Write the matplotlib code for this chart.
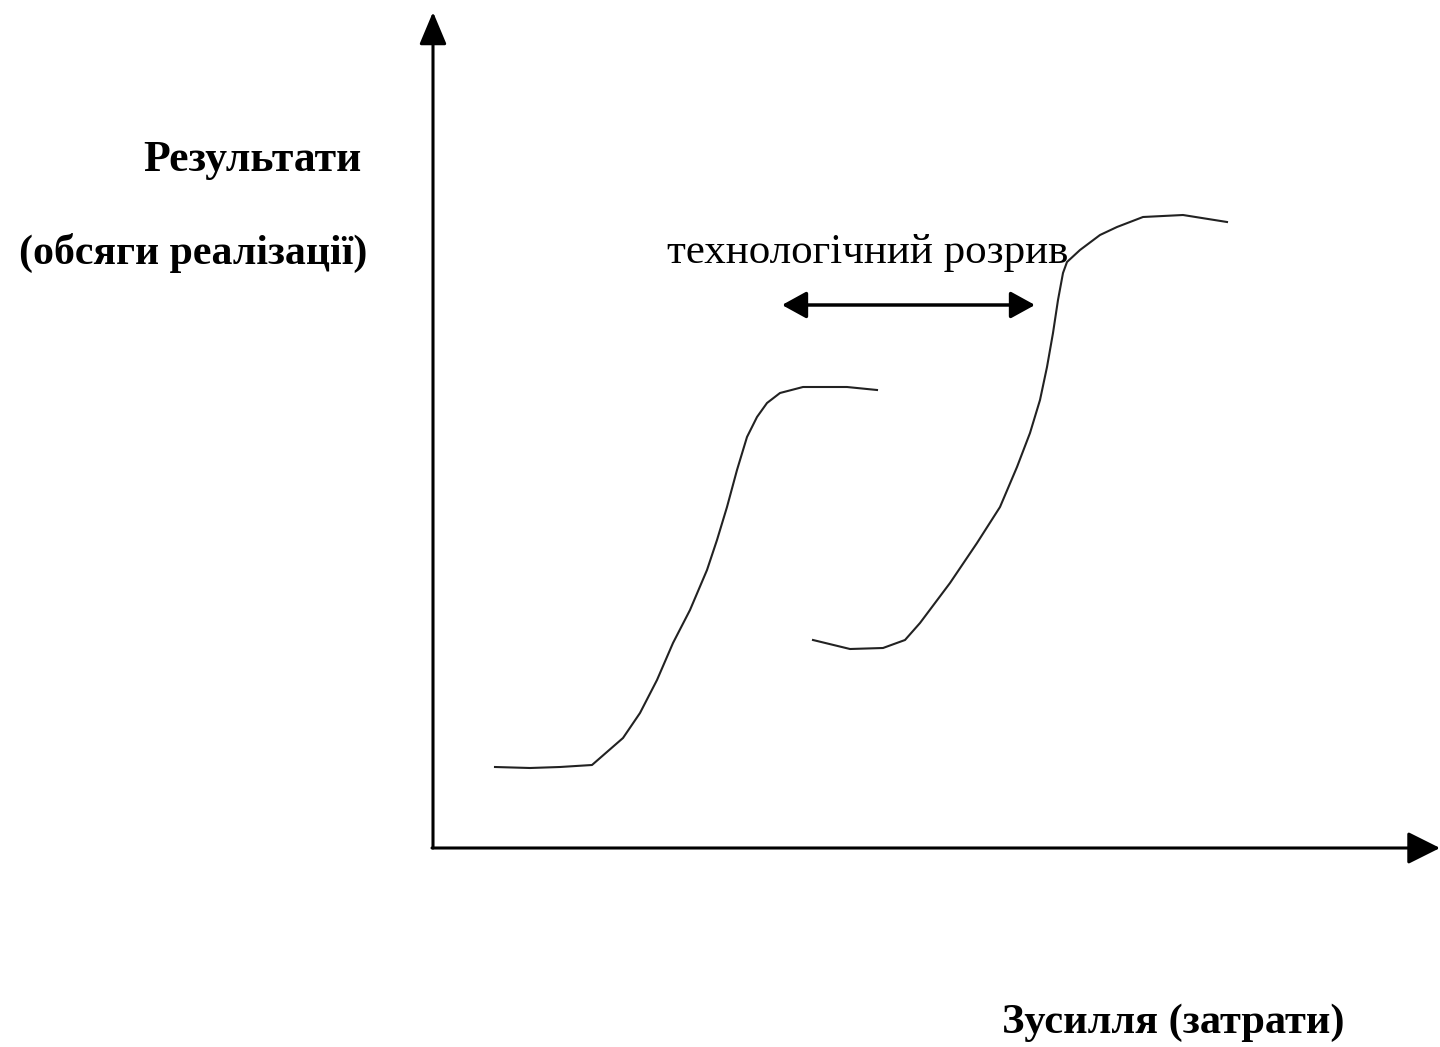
import matplotlib
matplotlib.use("Agg")
import numpy as np
import matplotlib.pyplot as plt

# schematic S-curves: two technologies and the gap between them
# coordinates measured relative to the axes origin (x right, y up)
curve1_x = [62, 97, 127, 159, 190, 207, 224, 240, 257, 274, 284, 294, 304,
            314, 324, 334, 347, 370, 414, 444]
curve1_y = [81, 80, 81, 83, 110, 135, 168, 205, 238, 278, 308, 341, 378,
            411, 431, 445, 455, 461, 461, 458]

curve2_x = [380, 417, 450, 472, 487, 517, 544, 567, 584, 597, 607, 614, 620,
            625, 630, 634, 647, 667, 684, 710, 750, 794]
curve2_y = [208, 199, 200, 208, 225, 265, 305, 341, 381, 415, 448, 481, 515,
            548, 575, 586, 598, 613, 621, 631, 633, 626]

gap_x = [349, 602]
gap_y = 543

y_label = ["Результати", "(обсяги реалізації)"]
x_label = "Зусилля (затрати)"
gap_label = "технологічний розрив"

fig = plt.figure(figsize=(14.4, 10.47), dpi=100)
ax = fig.add_axes([0, 0, 1, 1])
ax.set_xlim(-433, 1007)
ax.set_ylim(-199, 848)
ax.axis("off")

# axes with arrow heads
ax.annotate("", xy=(0, 836), xytext=(0, 0),
            arrowprops=dict(arrowstyle="-|>,head_length=1.0,head_width=0.42",
                            lw=2.2, color="black", mutation_scale=20,
                            shrinkA=0, shrinkB=0))
ax.annotate("", xy=(1007, 0), xytext=(-1, 0),
            arrowprops=dict(arrowstyle="-|>,head_length=1.0,head_width=0.5",
                            lw=2.2, color="black", mutation_scale=20,
                            shrinkA=0, shrinkB=0))

ax.plot(curve1_x, curve1_y, color="#222222", lw=1.5, solid_joinstyle="round")
ax.plot(curve2_x, curve2_y, color="#222222", lw=1.5, solid_joinstyle="round")

ax.annotate("", xy=(gap_x[0], gap_y), xytext=(gap_x[1], gap_y),
            arrowprops=dict(arrowstyle="<|-|>,head_length=1.0,head_width=0.55",
                            lw=2.5, color="black", mutation_scale=15,
                            shrinkA=0, shrinkB=0))

font = ["Liberation Serif", "DejaVu Serif"]
ax.text(362 - 433, 848 - 171, y_label[0], family=font, weight="bold",
        fontsize=31.5, ha="right", va="baseline")
ax.text(367 - 433, 848 - 264, y_label[1], family=font, weight="bold",
        fontsize=30.2, ha="right", va="baseline")
ax.text(667 - 433, 848 - 263, gap_label, family=font,
        fontsize=31, ha="left", va="baseline")
ax.text(1002 - 433, 848 - 1033, x_label, family=font, weight="bold",
        fontsize=30.5, ha="left", va="baseline")

fig.savefig("out.png", dpi=100)
